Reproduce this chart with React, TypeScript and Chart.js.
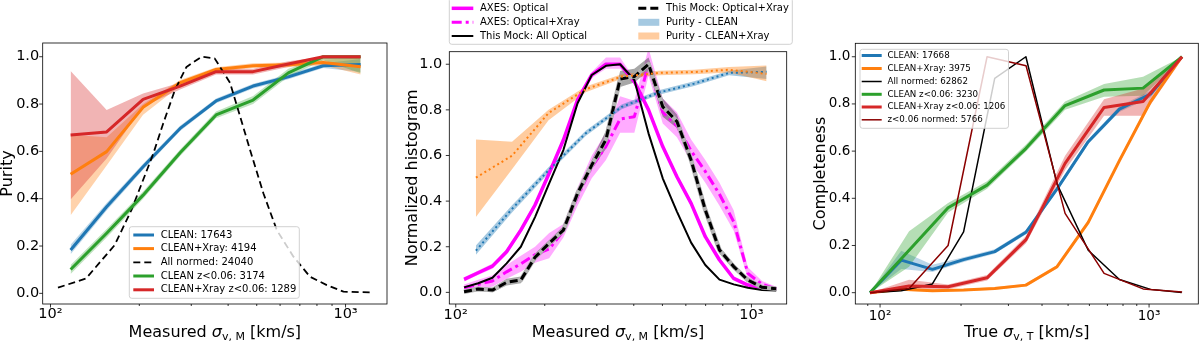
import React, { useEffect, useRef } from "react";
import { Chart, registerables } from "chart.js";

Chart.register(...registerables);

const FONT = "'DejaVu Sans', 'Liberation Sans', sans-serif";
const C_BLUE = "#1f77b4";
const C_ORANGE = "#ff7f0e";
const C_GREEN = "#2ca02c";
const C_RED = "#d62728";
const C_DARKRED = "#8b0000";
const C_MAGENTA = "#ff00ff";

// ---------- shared ticks ----------
const Y_TICKS = [0, 0.2, 0.4, 0.6, 0.8, 1.0];
const X_TICKS_A = [100, 200, 300, 400, 500, 600, 700, 800, 900, 1000];
const X_TICKS_B = [90, 100, 200, 300, 400, 500, 600, 700, 800, 900, 1000];
const X_MAJOR = [100, 1000];

// ---------- Panel 1: Purity vs measured sigma ----------
const p1X = [117, 155, 206, 275, 364, 486, 640, 840, 1125];
const p1Clean = [0.183, 0.366, 0.535, 0.697, 0.813, 0.876, 0.915, 0.962, 0.967];
const p1CleanLo = [0.165, 0.35, 0.522, 0.686, 0.803, 0.866, 0.905, 0.952, 0.935];
const p1CleanHi = [0.205, 0.382, 0.548, 0.708, 0.823, 0.886, 0.925, 0.972, 0.99];
const p1Xray = [0.503, 0.599, 0.786, 0.89, 0.946, 0.962, 0.966, 0.976, 0.958];
const p1XrayLo = [0.33, 0.54, 0.755, 0.877, 0.936, 0.952, 0.956, 0.964, 0.925];
const p1XrayHi = [0.67, 0.66, 0.8, 0.902, 0.956, 0.972, 0.976, 0.988, 0.995];
const p1CleanZ = [0.101, 0.254, 0.415, 0.594, 0.754, 0.817, 0.932, 1.0, 1.0];
const p1CleanZLo = [0.082, 0.236, 0.4, 0.58, 0.74, 0.8, 0.915, 0.985, 0.93];
const p1CleanZHi = [0.12, 0.272, 0.43, 0.608, 0.768, 0.834, 0.949, 1.0, 1.0];
const p1XrayZ = [0.669, 0.682, 0.82, 0.876, 0.937, 0.937, 0.969, 1.0, 1.0];
const p1XrayZLo = [0.397, 0.57, 0.79, 0.862, 0.925, 0.925, 0.957, 0.99, 0.99];
const p1XrayZHi = [0.94, 0.775, 0.845, 0.89, 0.949, 0.949, 0.981, 1.0, 1.0];
const p1AllX = [106, 132, 165, 188, 206, 223, 241, 264, 289, 325, 360, 406, 475, 527, 585, 666, 758, 864, 984, 1211];
const p1All = [0.024, 0.063, 0.204, 0.352, 0.479, 0.59, 0.718, 0.859, 0.957, 1.0, 0.993, 0.89, 0.605, 0.422, 0.267, 0.155, 0.07, 0.035, 0.007, 0.004];
const p1Labels = ["CLEAN: 17643", "CLEAN+Xray: 4194", "All normed: 24040", "CLEAN z<0.06: 3174", "CLEAN+Xray z<0.06: 1289"];

// ---------- Panel 2: Normalized histogram ----------
const p2H = [106.7, 119.1, 133.1, 148.6, 166.0, 185.4, 207.0, 231.2, 258.2, 288.4, 322.1, 359.7, 401.8, 448.7, 501.2, 559.8, 625.2, 698.2, 779.8, 870.9, 972.7, 1086.4, 1213.3];
const p2AxesOpt = [0.057, 0.086, 0.115, 0.178, 0.273, 0.383, 0.522, 0.668, 0.844, 0.953, 1.0, 1.0, 0.924, 0.8, 0.639, 0.507, 0.39, 0.244, 0.142, 0.061, 0.032, 0.022, 0.016];
const p2AxesOptLo = [0.048, 0.076, 0.104, 0.166, 0.26, 0.37, 0.508, 0.654, 0.83, 0.94, 0.98, 0.98, 0.91, 0.786, 0.626, 0.494, 0.378, 0.233, 0.132, 0.052, 0.024, 0.015, 0.009];
const p2AxesOptHi = [0.066, 0.096, 0.126, 0.19, 0.286, 0.396, 0.536, 0.682, 0.858, 0.966, 1.03, 1.03, 0.938, 0.814, 0.652, 0.52, 0.402, 0.255, 0.152, 0.07, 0.04, 0.029, 0.023];
const p2AxesXray = [0.02, 0.035, 0.05, 0.09, 0.125, 0.165, 0.19, 0.27, 0.42, 0.55, 0.64, 0.76, 0.77, 1.0, 0.79, 0.73, 0.62, 0.53, 0.43, 0.31, 0.083, 0.035, 0.015];
const p2AxesXrayLo = [0.005, 0.015, 0.025, 0.06, 0.09, 0.13, 0.15, 0.24, 0.38, 0.5, 0.58, 0.7, 0.7, 0.95, 0.74, 0.68, 0.57, 0.48, 0.38, 0.27, 0.06, 0.02, 0.005];
const p2AxesXrayHi = [0.035, 0.055, 0.075, 0.12, 0.16, 0.2, 0.26, 0.3, 0.46, 0.6, 0.7, 0.86, 0.84, 1.07, 0.85, 0.79, 0.67, 0.58, 0.48, 0.36, 0.11, 0.05, 0.025];
const p2MockAll = [0.022, 0.04, 0.064, 0.127, 0.2, 0.33, 0.478, 0.624, 0.829, 0.953, 0.993, 1.0, 0.931, 0.697, 0.5, 0.354, 0.218, 0.12, 0.056, 0.035, 0.02, 0.01, 0.008];
const p2MockXray = [0.003, 0.015, 0.01, 0.044, 0.054, 0.154, 0.215, 0.273, 0.434, 0.558, 0.67, 0.935, 0.946, 1.0, 0.814, 0.749, 0.58, 0.361, 0.186, 0.113, 0.054, 0.022, 0.016];
const p2MockXrayLo = [0.0, 0.005, 0.0, 0.03, 0.04, 0.14, 0.2, 0.26, 0.42, 0.54, 0.63, 0.9, 0.92, 0.97, 0.77, 0.72, 0.56, 0.345, 0.17, 0.1, 0.045, 0.015, 0.008];
const p2MockXrayHi = [0.01, 0.025, 0.02, 0.06, 0.07, 0.17, 0.23, 0.29, 0.45, 0.58, 0.71, 0.97, 0.98, 1.03, 0.85, 0.78, 0.6, 0.38, 0.2, 0.125, 0.065, 0.03, 0.024];
const p2Labels = ["AXES: Optical", "AXES: Optical+Xray", "This Mock: All Optical", "This Mock: Optical+Xray", "Purity - CLEAN", "Purity - CLEAN+Xray"];

// ---------- Panel 3: Completeness vs true sigma ----------
const p3XA = [91.8, 119.9, 156.5, 204.4, 266.8, 348.4, 455.0, 594.1, 775.8, 1013.0, 1322.6];
const p3XZ = [91.8, 128.2, 179.0, 249.9, 348.9, 487.3, 680.4, 950.0, 1326.7];
const p3Clean = [0.0, 0.138, 0.099, 0.14, 0.174, 0.256, 0.44, 0.64, 0.778, 0.842, 1.0];
const p3CleanLo = [0.0, 0.1, 0.088, 0.13, 0.165, 0.247, 0.43, 0.63, 0.766, 0.828, 0.995];
const p3CleanHi = [0.0, 0.178, 0.118, 0.15, 0.184, 0.266, 0.45, 0.65, 0.79, 0.856, 1.0];
const p3Xray = [0.0, 0.014, 0.008, 0.011, 0.018, 0.032, 0.11, 0.298, 0.56, 0.81, 1.0];
const p3XrayLo = [0.0, 0.008, 0.004, 0.006, 0.012, 0.026, 0.102, 0.288, 0.55, 0.8, 0.995];
const p3XrayHi = [0.0, 0.02, 0.012, 0.016, 0.024, 0.038, 0.118, 0.308, 0.57, 0.82, 1.0];
const p3All = [0.0, 0.008, 0.037, 0.258, 0.908, 1.0, 0.46, 0.18, 0.056, 0.014, 0.001];
const p3CleanZ = [0.0, 0.18, 0.36, 0.456, 0.612, 0.793, 0.859, 0.867, 1.0];
const p3CleanZLo = [0.0, 0.11, 0.34, 0.44, 0.598, 0.775, 0.83, 0.835, 0.99];
const p3CleanZHi = [0.0, 0.26, 0.38, 0.472, 0.628, 0.81, 0.885, 0.915, 1.0];
const p3XrayZ = [0.0, 0.028, 0.025, 0.063, 0.225, 0.548, 0.785, 0.81, 1.0];
const p3XrayZLo = [0.0, 0.01, 0.015, 0.052, 0.21, 0.52, 0.75, 0.75, 0.99];
const p3XrayZHi = [0.0, 0.055, 0.035, 0.075, 0.24, 0.58, 0.82, 0.865, 1.0];
const p3ZNormed = [0.0, 0.018, 0.2, 1.0, 0.962, 0.336, 0.082, 0.016, 0.003];
const p3Labels = ["CLEAN: 17668", "CLEAN+Xray: 3975", "All normed: 62862", "CLEAN z<0.06: 3230", "CLEAN+Xray z<0.06: 1206", "z<0.06 normed: 5766"];

// ---------- helpers ----------
const pts = (xs: number[], ys: number[]) => xs.map((x, i) => ({ x, y: ys[i] }));

function lineDs(xs: number[], ys: number[], color: string, width: number, dash: number[] = []) {
  return {
    data: pts(xs, ys),
    borderColor: color,
    backgroundColor: color,
    borderWidth: width,
    borderDash: dash,
    borderCapStyle: "butt",
    borderJoinStyle: "round",
    pointRadius: 0,
    pointHoverRadius: 0,
    fill: false,
    tension: 0,
  };
}

function bandDs(xs: number[], lo: number[], hi: number[], color: string) {
  return [
    { data: pts(xs, lo), borderColor: "rgba(0,0,0,0)", borderWidth: 0, pointRadius: 0, fill: false, tension: 0 },
    { data: pts(xs, hi), borderColor: "rgba(0,0,0,0)", backgroundColor: color, borderWidth: 0, pointRadius: 0, fill: "-1", tension: 0 },
  ];
}

type LegendItem = { label: string; kind: "line" | "patch"; color: string; width?: number; dash?: number[]; col: number; row: number };
type LegendCfg = { box: number[]; font: number; rows: number[]; cols: { h0: number; h1: number; tx: number }[]; items: LegendItem[] };

function drawLegend(ctx: CanvasRenderingContext2D, L: LegendCfg) {
  const [x0, y0, x1, y1] = L.box;
  const r = 2.5;
  ctx.save();
  ctx.setLineDash([]);
  ctx.beginPath();
  ctx.moveTo(x0 + r, y0);
  ctx.lineTo(x1 - r, y0);
  ctx.quadraticCurveTo(x1, y0, x1, y0 + r);
  ctx.lineTo(x1, y1 - r);
  ctx.quadraticCurveTo(x1, y1, x1 - r, y1);
  ctx.lineTo(x0 + r, y1);
  ctx.quadraticCurveTo(x0, y1, x0, y1 - r);
  ctx.lineTo(x0, y0 + r);
  ctx.quadraticCurveTo(x0, y0, x0 + r, y0);
  ctx.closePath();
  ctx.fillStyle = "rgba(255,255,255,0.8)";
  ctx.fill();
  ctx.strokeStyle = "rgba(204,204,204,0.9)";
  ctx.lineWidth = 1;
  ctx.stroke();
  for (const it of L.items) {
    const c = L.cols[it.col];
    const y = L.rows[it.row];
    if (it.kind === "patch") {
      ctx.fillStyle = it.color;
      ctx.fillRect(c.h0, y - 3.5, c.h1 - c.h0, 7);
    } else {
      ctx.beginPath();
      ctx.setLineDash(it.dash || []);
      ctx.lineWidth = it.width || 1.5;
      ctx.strokeStyle = it.color;
      ctx.lineCap = "butt";
      ctx.moveTo(c.h0, y);
      ctx.lineTo(c.h1, y);
      ctx.stroke();
      ctx.setLineDash([]);
    }
    ctx.fillStyle = "#000";
    ctx.font = `${L.font}px ${FONT}`;
    ctx.textAlign = "left";
    ctx.textBaseline = "middle";
    ctx.fillText(it.label, c.tx, y);
  }
  ctx.restore();
}

interface PanelCfg {
  yAxisW: number; padRight: number; top: number; xAxisH: number;
  xmin: number; xmax: number; ymin: number; ymax: number;
  tickFont: number; yPad: number; xPad: number; xTicks: number[];
  xTitle: string; xSub: string; yTitle: string; yTitleX: number;
  legend: LegendCfg;
}

function decor(cfg: PanelCfg) {
  return {
    id: "decor",
    afterDraw(chart: any) {
      const ctx: CanvasRenderingContext2D = chart.ctx;
      const a = chart.chartArea;
      const xs = chart.scales.x;
      const ys = chart.scales.y;
      ctx.save();
      ctx.setLineDash([]);
      ctx.strokeStyle = "#000";
      ctx.lineWidth = 0.8;
      ctx.strokeRect(a.left, a.top, a.right - a.left, a.bottom - a.top);
      ctx.beginPath();
      for (const v of cfg.xTicks) {
        const p = xs.getPixelForValue(v);
        const len = X_MAJOR.includes(v) ? 3.5 : 2;
        ctx.moveTo(p, a.bottom);
        ctx.lineTo(p, a.bottom + len);
      }
      for (const v of Y_TICKS) {
        const p = ys.getPixelForValue(v);
        ctx.moveTo(a.left - 3.5, p);
        ctx.lineTo(a.left, p);
      }
      ctx.stroke();

      // x title with math subscript
      const parts = [
        { t: cfg.xTitle + " ", f: `16px ${FONT}`, dy: 0 },
        { t: "σ", f: `italic 16px ${FONT}`, dy: 0 },
        { t: cfg.xSub, f: `11px ${FONT}`, dy: 3.5 },
        { t: " [km/s]", f: `16px ${FONT}`, dy: 0 },
      ];
      let total = 0;
      for (const p of parts) { ctx.font = p.f; total += ctx.measureText(p.t).width; }
      let x = (a.left + a.right) / 2 - total / 2;
      ctx.fillStyle = "#000";
      ctx.textAlign = "left";
      ctx.textBaseline = "alphabetic";
      for (const p of parts) {
        ctx.font = p.f;
        ctx.fillText(p.t, x, 336.5 + p.dy);
        x += ctx.measureText(p.t).width;
      }

      // y title
      ctx.save();
      ctx.translate(cfg.yTitleX, (a.top + a.bottom) / 2);
      ctx.rotate(-Math.PI / 2);
      ctx.font = `16px ${FONT}`;
      ctx.textAlign = "center";
      ctx.textBaseline = "alphabetic";
      ctx.fillText(cfg.yTitle, 0, 0);
      ctx.restore();

      drawLegend(ctx, cfg.legend);
      ctx.restore();
    },
  };
}

function buildConfig(cfg: PanelCfg, datasets: any[]) {
  const ds = datasets.map((d, i) => ({ ...d, order: datasets.length - i }));
  return {
    type: "line",
    data: { datasets: ds },
    options: {
      animation: false,
      responsive: false,
      maintainAspectRatio: false,
      events: [],
      layout: { padding: { left: 0, right: cfg.padRight, top: cfg.top, bottom: 0 } },
      plugins: { legend: { display: false }, tooltip: { enabled: false }, title: { display: false } },
      scales: {
        x: {
          type: "logarithmic",
          min: cfg.xmin,
          max: cfg.xmax,
          afterBuildTicks: (axis: any) => { axis.ticks = cfg.xTicks.map((v) => ({ value: v })); },
          afterFit: (axis: any) => { axis.height = cfg.xAxisH; },
          ticks: {
            autoSkip: false, maxRotation: 0, minRotation: 0, padding: cfg.xPad, color: "#000",
            font: { family: FONT, size: cfg.tickFont },
            callback: (v: any) => (Number(v) === 100 ? "10²" : Number(v) === 1000 ? "10³" : ""),
          },
          grid: { display: false, drawTicks: false },
          border: { display: false },
        },
        y: {
          type: "linear",
          min: cfg.ymin,
          max: cfg.ymax,
          afterBuildTicks: (axis: any) => { axis.ticks = Y_TICKS.map((v) => ({ value: v })); },
          afterFit: (axis: any) => { axis.width = cfg.yAxisW; },
          ticks: {
            padding: cfg.yPad, color: "#000",
            font: { family: FONT, size: cfg.tickFont },
            callback: (v: any) => Number(v).toFixed(1),
          },
          grid: { display: false, drawTicks: false },
          border: { display: false },
        },
      },
    },
    plugins: [decor(cfg)],
  };
}

// ---------- panel builders ----------
function buildP1() {
  const cfg: PanelCfg = {
    yAxisW: 42.7, padRight: 13, top: 43, xAxisH: 37,
    xmin: 94.1, xmax: 1382, ymin: -0.045, ymax: 1.058,
    tickFont: 14.5, yPad: 3.5, xPad: 2, xTicks: X_TICKS_A,
    xTitle: "Measured", xSub: "v, M", yTitle: "Purity", yTitleX: 11.7,
    legend: {
      box: [129.3, 226.7, 299.3, 298.3], font: 10,
      rows: [235, 248.6, 262.3, 276, 289.8],
      cols: [{ h0: 133.3, h1: 154, tx: 160.7 }],
      items: [
        { label: p1Labels[0], kind: "line", color: C_BLUE, width: 3, col: 0, row: 0 },
        { label: p1Labels[1], kind: "line", color: C_ORANGE, width: 3, col: 0, row: 1 },
        { label: p1Labels[2], kind: "line", color: "#000", width: 1.8, dash: [7, 4], col: 0, row: 2 },
        { label: p1Labels[3], kind: "line", color: C_GREEN, width: 3, col: 0, row: 3 },
        { label: p1Labels[4], kind: "line", color: C_RED, width: 3, col: 0, row: 4 },
      ],
    },
  };
  const datasets = [
    ...bandDs(p1X, p1CleanLo, p1CleanHi, "rgba(31,119,180,0.3)"),
    ...bandDs(p1X, p1XrayLo, p1XrayHi, "rgba(255,127,14,0.35)"),
    ...bandDs(p1X, p1CleanZLo, p1CleanZHi, "rgba(44,160,44,0.3)"),
    ...bandDs(p1X, p1XrayZLo, p1XrayZHi, "rgba(214,39,40,0.35)"),
    lineDs(p1X, p1Clean, C_BLUE, 3),
    lineDs(p1X, p1Xray, C_ORANGE, 3),
    lineDs(p1AllX, p1All, "#000", 1.8, [7, 4]),
    lineDs(p1X, p1CleanZ, C_GREEN, 3),
    lineDs(p1X, p1XrayZ, C_RED, 3),
  ];
  return buildConfig(cfg, datasets);
}

function buildP2() {
  const cfg: PanelCfg = {
    yAxisW: 49.3, padRight: 13.3, top: 51.7, xAxisH: 37,
    xmin: 95.1, xmax: 1316, ymin: -0.051, ymax: 1.055,
    tickFont: 14.5, yPad: 7, xPad: 3, xTicks: X_TICKS_A,
    xTitle: "Measured", xSub: "v, M", yTitle: "Normalized histogram", yTitleX: 17,
    legend: {
      box: [49.3, -2, 392.3, 44.3], font: 10,
      rows: [8.3, 22.3, 36],
      cols: [{ h0: 51.7, h1: 73.3, tx: 80 }, { h0: 238.3, h1: 259.3, tx: 266 }],
      items: [
        { label: p2Labels[0], kind: "line", color: C_MAGENTA, width: 3.5, col: 0, row: 0 },
        { label: p2Labels[1], kind: "line", color: C_MAGENTA, width: 3, dash: [10, 4, 3, 4], col: 0, row: 1 },
        { label: p2Labels[2], kind: "line", color: "#000", width: 2, col: 0, row: 2 },
        { label: p2Labels[3], kind: "line", color: "#000", width: 3, dash: [8, 4], col: 1, row: 0 },
        { label: p2Labels[4], kind: "patch", color: "rgba(31,119,180,0.4)", col: 1, row: 1 },
        { label: p2Labels[5], kind: "patch", color: "rgba(255,127,14,0.4)", col: 1, row: 2 },
      ],
    },
  };
  const datasets = [
    ...bandDs(p2H, p2AxesXrayLo, p2AxesXrayHi, "rgba(255,0,255,0.33)"),
    ...bandDs(p2H, p2AxesOptLo, p2AxesOptHi, "rgba(255,0,255,0.3)"),
    ...bandDs(p2H, p2MockXrayLo, p2MockXrayHi, "rgba(60,60,60,0.45)"),
    ...bandDs(p1X, p1CleanLo, p1CleanHi, "rgba(31,119,180,0.4)"),
    ...bandDs(p1X, p1XrayLo, p1XrayHi, "rgba(255,127,14,0.4)"),
    lineDs(p2H, p2AxesOpt, C_MAGENTA, 3.5),
    lineDs(p2H, p2AxesXray, C_MAGENTA, 3, [10, 4, 3, 4]),
    lineDs(p2H, p2MockAll, "#000", 2),
    lineDs(p2H, p2MockXray, "#b4b4b4", 4.5),
    lineDs(p2H, p2MockXray, "#000", 3, [8, 4]),
    lineDs(p1X, p1Clean, C_BLUE, 2, [2, 3]),
    lineDs(p1X, p1Xray, C_ORANGE, 2, [2, 3]),
  ];
  return buildConfig(cfg, datasets);
}

function buildP3() {
  const cfg: PanelCfg = {
    yAxisW: 55.3, padRight: 1.7, top: 43.3, xAxisH: 37,
    xmin: 80.9, xmax: 1524, ymin: -0.048, ymax: 1.057,
    tickFont: 13.5, yPad: 5, xPad: 4, xTicks: X_TICKS_B,
    xTitle: "True", xSub: "v, T", yTitle: "Completeness", yTitleX: 24.5,
    legend: {
      box: [60, 49.3, 208.5, 128.3], font: 8.7,
      rows: [55.5, 68.5, 81.5, 94.3, 107, 119.8],
      cols: [{ h0: 61.7, h1: 81.7, tx: 87.5 }],
      items: [
        { label: p3Labels[0], kind: "line", color: C_BLUE, width: 3, col: 0, row: 0 },
        { label: p3Labels[1], kind: "line", color: C_ORANGE, width: 3, col: 0, row: 1 },
        { label: p3Labels[2], kind: "line", color: "#000", width: 1.5, col: 0, row: 2 },
        { label: p3Labels[3], kind: "line", color: C_GREEN, width: 3, col: 0, row: 3 },
        { label: p3Labels[4], kind: "line", color: C_RED, width: 3, col: 0, row: 4 },
        { label: p3Labels[5], kind: "line", color: C_DARKRED, width: 1.5, col: 0, row: 5 },
      ],
    },
  };
  const datasets = [
    ...bandDs(p3XA, p3CleanLo, p3CleanHi, "rgba(31,119,180,0.3)"),
    ...bandDs(p3XA, p3XrayLo, p3XrayHi, "rgba(255,127,14,0.3)"),
    ...bandDs(p3XZ, p3CleanZLo, p3CleanZHi, "rgba(44,160,44,0.35)"),
    ...bandDs(p3XZ, p3XrayZLo, p3XrayZHi, "rgba(214,39,40,0.35)"),
    lineDs(p3XA, p3Clean, C_BLUE, 3),
    lineDs(p3XA, p3Xray, C_ORANGE, 3),
    lineDs(p3XA, p3All, "#000", 1.5),
    lineDs(p3XZ, p3CleanZ, C_GREEN, 3),
    lineDs(p3XZ, p3XrayZ, C_RED, 3),
    lineDs(p3XZ, p3ZNormed, C_DARKRED, 1.5),
  ];
  return buildConfig(cfg, datasets);
}

function Panel({ left, build }: { left: number; build: () => any }) {
  const ref = useRef<HTMLCanvasElement>(null);
  useEffect(() => {
    if (!ref.current) return;
    const chart = new Chart(ref.current, build());
    return () => chart.destroy();
  }, []);
  return (
    <canvas
      ref={ref}
      width={400}
      height={341}
      style={{ position: "absolute", left, top: 0, width: 400, height: 341 }}
    />
  );
}

export default function App() {
  return (
    <div style={{ position: "absolute", left: 0, top: 0, width: 1200, height: 341, background: "#fff", overflow: "hidden" }}>
      <Panel left={0} build={buildP1} />
      <Panel left={400} build={buildP2} />
      <Panel left={800} build={buildP3} />
    </div>
  );
}
